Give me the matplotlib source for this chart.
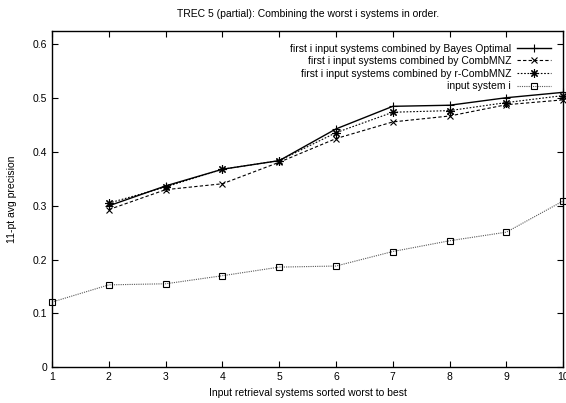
import matplotlib.pyplot as plt

plt.rcParams['font.family'] = ['Liberation Sans', 'DejaVu Sans']
plt.rcParams['font.size'] = 7.5

# number of input systems combined (worst to best)
systems = [1, 2, 3, 4, 5, 6, 7, 8, 9, 10]
combined = [2, 3, 4, 5, 6, 7, 8, 9, 10]

bayes_optimal = [0.300, 0.337, 0.368, 0.384, 0.443, 0.485, 0.487, 0.501, 0.511]
comb_mnz = [0.293, 0.330, 0.341, 0.381, 0.425, 0.456, 0.467, 0.488, 0.497]
r_comb_mnz = [0.305, 0.335, 0.368, 0.384, 0.436, 0.474, 0.477, 0.492, 0.505]
input_system = [0.121, 0.153, 0.155, 0.170, 0.186, 0.188, 0.215, 0.235, 0.251, 0.309]

fig = plt.figure(figsize=(5.66, 4.03), dpi=100)
ax = fig.add_axes([0.092, 0.089, 0.903, 0.834])

ax.plot(combined, bayes_optimal, color='black', lw=1.0, marker='+', ms=6, mew=0.8,
        label='first i input systems combined by Bayes Optimal', clip_on=False)
ax.plot(combined, comb_mnz, color='black', lw=0.8, ls=(0, (3, 2)), marker='x', ms=4.5, mew=0.8,
        label='first i input systems combined by CombMNZ', clip_on=False)
ax.plot(combined, r_comb_mnz, color='black', lw=0.8, ls=(0, (1.5, 1.5)), marker=(8, 2, 0), ms=6, mew=0.8,
        label='first i input systems combined by r-CombMNZ', clip_on=False)
ax.plot(systems, input_system, color='0.35', lw=0.8, ls=(0, (1, 1)), marker='s', ms=4,
        mfc='none', mec='black', mew=0.8, label='input system i', clip_on=False)

ax.set_xlim(1, 10)
ax.set_ylim(0, 0.625)
ax.set_xticks(systems)
ax.set_yticks([0, 0.1, 0.2, 0.3, 0.4, 0.5, 0.6])
ax.set_yticklabels(['0', '0.1', '0.2', '0.3', '0.4', '0.5', '0.6'])
ax.tick_params(direction='in', top=True, right=True, length=4, width=0.8)
for s in ax.spines.values():
    s.set_linewidth(1.0)

ax.set_title('TREC 5 (partial): Combining the worst i systems in order.', fontsize=7.5, pad=10)
ax.set_xlabel('Input retrieval systems sorted worst to best')
ax.set_ylabel('11-pt avg precision', labelpad=11)

ax.legend(loc='upper right', frameon=False, markerfirst=False, handlelength=3.2,
          borderaxespad=0.8, labelspacing=0.25, handletextpad=0.6)

fig.savefig('out.png', dpi=100)
